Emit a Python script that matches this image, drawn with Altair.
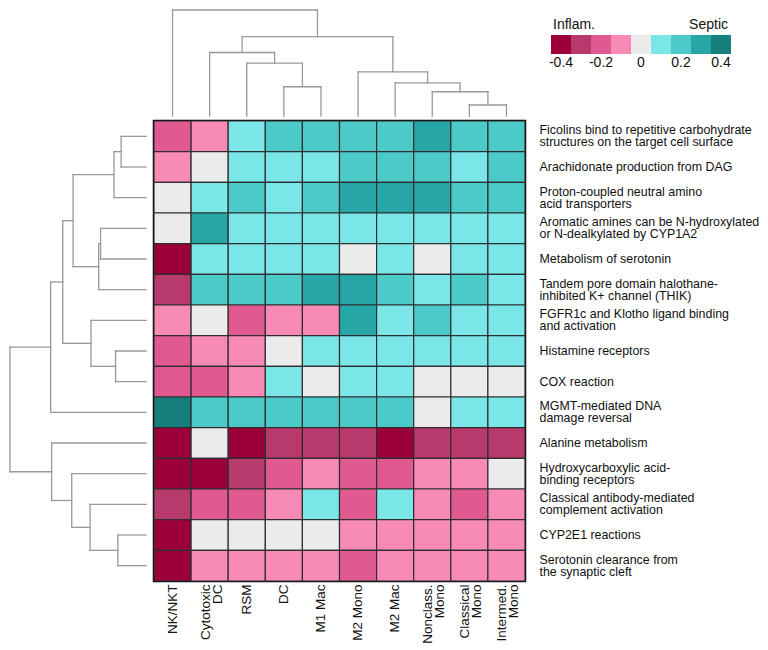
import altair as alt
import pandas as pd

FONT = "Liberation Sans"

# ---------------- data ----------------
columns = ["NK/NKT", "Cytotoxic|DC", "RSM", "DC", "M1 Mac", "M2 Mono",
           "M2 Mac", "Nonclass.|Mono", "Classical|Mono", "Intermed.|Mono"]

pathways = [
    "Ficolins bind to repetitive carbohydrate|structures on the target cell surface",
    "Arachidonate production from DAG",
    "Proton-coupled neutral amino|acid transporters",
    "Aromatic amines can be N-hydroxylated|or N-dealkylated by CYP1A2",
    "Metabolism of serotonin",
    "Tandem pore domain halothane-|inhibited K+ channel (THIK)",
    "FGFR1c and Klotho ligand binding|and activation",
    "Histamine receptors",
    "COX reaction",
    "MGMT-mediated DNA|damage reversal",
    "Alanine metabolism",
    "Hydroxycarboxylic acid-|binding receptors",
    "Classical antibody-mediated|complement activation",
    "CYP2E1 reactions",
    "Serotonin clearance from|the synaptic cleft",
]

values = [
    [-0.2, -0.1, 0.1, 0.2, 0.2, 0.2, 0.2, 0.3, 0.2, 0.2],
    [-0.1, 0.0, 0.1, 0.1, 0.1, 0.2, 0.2, 0.2, 0.1, 0.2],
    [0.0, 0.1, 0.2, 0.1, 0.2, 0.3, 0.3, 0.3, 0.2, 0.2],
    [0.0, 0.3, 0.1, 0.1, 0.1, 0.1, 0.1, 0.1, 0.1, 0.1],
    [-0.4, 0.1, 0.1, 0.1, 0.1, 0.0, 0.1, 0.0, 0.1, 0.1],
    [-0.3, 0.2, 0.2, 0.2, 0.3, 0.3, 0.2, 0.1, 0.2, 0.1],
    [-0.1, 0.0, -0.2, -0.1, -0.1, 0.3, 0.1, 0.2, 0.1, 0.1],
    [-0.2, -0.1, -0.1, 0.0, 0.1, 0.1, 0.1, 0.1, 0.1, 0.1],
    [-0.2, -0.2, -0.1, 0.1, 0.0, 0.1, 0.1, 0.0, 0.0, 0.0],
    [0.4, 0.2, 0.2, 0.2, 0.2, 0.2, 0.2, 0.0, 0.1, 0.1],
    [-0.4, 0.0, -0.4, -0.3, -0.3, -0.3, -0.4, -0.3, -0.3, -0.3],
    [-0.4, -0.4, -0.3, -0.2, -0.1, -0.2, -0.2, -0.1, -0.1, 0.0],
    [-0.3, -0.2, -0.2, -0.1, 0.1, -0.2, 0.1, -0.1, -0.2, -0.1],
    [-0.4, 0.0, 0.0, 0.0, 0.0, -0.1, -0.1, -0.1, -0.1, -0.1],
    [-0.4, -0.1, -0.1, -0.1, -0.1, -0.2, -0.1, -0.1, -0.1, -0.1],
]

# linkage: (child a, child b, merge distance); leaves are 0..n-1 in display order
col_linkage = [
    (8, 9, 0.104),
    (7, 10, 0.229),
    (6, 11, 0.312),
    (5, 12, 0.416),
    (3, 4, 0.276),
    (2, 14, 0.499),
    (1, 15, 0.599),
    (16, 13, 0.748),
    (0, 17, 1.0),
]

row_linkage = [
    (0, 1, 0.183),
    (15, 2, 0.235),
    (3, 4, 0.334),
    (17, 5, 0.348),
    (16, 18, 0.536),
    (7, 8, 0.224),
    (6, 20, 0.404),
    (19, 21, 0.612),
    (22, 9, 0.701),
    (13, 14, 0.207),
    (12, 24, 0.411),
    (11, 25, 0.546),
    (10, 26, 0.694),
    (23, 27, 1.0),
]

legend_values = [-0.4, -0.3, -0.2, -0.1, 0.0, 0.1, 0.2, 0.3, 0.4]
legend_colors = ["#9c003b", "#b8396b", "#e05a91", "#f78bb5", "#ebebeb",
                 "#7ae6e8", "#4cc9c9", "#27a6a8", "#167e7d"]
legend_ticks = [-0.4, -0.2, 0.0, 0.2, 0.4]
legend_tick_labels = ["-0.4", "-0.2", "0", "0.2", "0.4"]
legend_titles = ["Inflam.", "Septic"]

# ---------------- layout ----------------
N_COLS = len(columns)
N_ROWS = len(pathways)
CELL_W = 37.1
CELL_H = 30.67
HM_W = round(CELL_W * N_COLS)
HM_H = round(CELL_H * N_ROWS)
LEFT_W = 136
GAP = 8
TOP_H = 106
LEG_GAP = 26
LEG_W = 180
TOP_W = LEFT_W + GAP + HM_W + LEG_GAP + LEG_W
DCOL = "#999999"
TXT = "#111111"
MULTI = "indexof(datum.label, '|') >= 0"

# ---------------- build tables ----------------
def dendro_segments(linkage, n):
    pos = {i: i + 0.5 for i in range(n)}
    hgt = {i: 0.0 for i in range(n)}
    segs = []
    for k, (a, b, d) in enumerate(linkage):
        node = n + k
        segs.append(dict(p=pos[a], p2=pos[a], d=hgt[a], d2=d))
        segs.append(dict(p=pos[b], p2=pos[b], d=hgt[b], d2=d))
        segs.append(dict(p=pos[a], p2=pos[b], d=d, d2=d))
        pos[node] = (pos[a] + pos[b]) / 2
        hgt[node] = d
    return pd.DataFrame(segs)

top_df = dendro_segments(col_linkage, N_COLS)
left_df = dendro_segments(row_linkage, N_ROWS)

heat_df = pd.DataFrame(
    [dict(row=pathways[i], col=columns[j], val=values[i][j])
     for i in range(N_ROWS) for j in range(N_COLS)]
)

step = legend_values[1] - legend_values[0]
thresholds = [(a + b) / 2 for a, b in zip(legend_values[:-1], legend_values[1:])]
leg_df = pd.DataFrame({"v": legend_values, "c": legend_colors})
leg_df["lo"] = leg_df["v"] - step / 2
leg_df["hi"] = leg_df["v"] + step / 2
leg_lo = legend_values[0] - step / 2
leg_hi = legend_values[-1] + step / 2
tick_df = pd.DataFrame({"x": legend_ticks, "t": legend_tick_labels})

# ---------------- scales ----------------
col_domain_lo = -(LEFT_W + GAP) / CELL_W
col_domain_hi = (TOP_W - LEFT_W - GAP) / CELL_W
leg_unit = (leg_hi - leg_lo) / LEG_W
leg_x = alt.Scale(domain=[leg_lo - (TOP_W - LEG_W) * leg_unit, leg_hi], nice=False, zero=False)

# ---------------- charts ----------------
top = alt.Chart(top_df).mark_rule(color=DCOL, strokeWidth=1.3, strokeCap="square").encode(
    x=alt.X("p:Q", scale=alt.Scale(domain=[col_domain_lo, col_domain_hi], nice=False, zero=False), axis=None),
    x2="p2:Q",
    y=alt.Y("d:Q", scale=alt.Scale(domain=[0, 1], nice=False, zero=False), axis=None),
    y2="d2:Q",
)

swatches = alt.Chart(leg_df).mark_rect().encode(
    x=alt.X("lo:Q", scale=leg_x, axis=None),
    x2="hi:Q",
    y=alt.value(25),
    y2=alt.value(44),
    color=alt.Color("c:N", scale=None),
)
tick_text = alt.Chart(tick_df).mark_text(
    align="center", baseline="middle", fontSize=14, font=FONT, color=TXT
).encode(x=alt.X("x:Q", scale=leg_x, axis=None), y=alt.value(53), text="t:N")
title_left = alt.Chart(pd.DataFrame({"t": [legend_titles[0]], "x": [leg_lo]})).mark_text(
    align="left", baseline="middle", dx=2, fontSize=14, font=FONT, color=TXT
).encode(x=alt.X("x:Q", scale=leg_x, axis=None), y=alt.value(15), text="t:N")
title_right = alt.Chart(pd.DataFrame({"t": [legend_titles[1]], "x": [leg_hi]})).mark_text(
    align="right", baseline="middle", dx=-3, fontSize=14, font=FONT, color=TXT
).encode(x=alt.X("x:Q", scale=leg_x, axis=None), y=alt.value(15), text="t:N")
legend = alt.layer(swatches, tick_text, title_left, title_right)

top_row = alt.layer(top, legend).resolve_scale(x="independent").properties(width=TOP_W, height=TOP_H)

left = alt.Chart(left_df).mark_rule(color=DCOL, strokeWidth=1.3, strokeCap="square").encode(
    x=alt.X("d:Q", scale=alt.Scale(domain=[0, 1], reverse=True, nice=False, zero=False), axis=None),
    x2="d2:Q",
    y=alt.Y("p:Q", scale=alt.Scale(domain=[0, N_ROWS], reverse=True, nice=False, zero=False), axis=None),
    y2="p2:Q",
).properties(width=LEFT_W, height=HM_H)

heat = alt.Chart(heat_df).mark_rect(stroke="#2e2e2e", strokeWidth=1.2).encode(
    x=alt.X("col:N", sort=columns, scale=alt.Scale(paddingInner=0, paddingOuter=0),
            axis=alt.Axis(orient="bottom", labelAngle=270, labelExpr="split(datum.label, '|')",
                          labelLineHeight=12, labelFontSize=13.5, labelPadding=3, ticks=False,
                          labelOffset={"condition": {"test": MULTI, "value": -4}, "value": 0},
                          domain=False, title=None, labelColor=TXT, labelFont=FONT)),
    y=alt.Y("row:N", sort=pathways, scale=alt.Scale(paddingInner=0, paddingOuter=0),
            axis=alt.Axis(orient="right", labelExpr="split(datum.label, '|')",
                          labelLineHeight=12, labelFontSize=12.4, labelPadding=14, labelLimit=400,
                          labelOffset={"condition": {"test": MULTI, "value": -6}, "value": 0},
                          ticks=False, domain=False, title=None, labelColor=TXT, labelFont=FONT)),
    color=alt.Color("val:Q", scale=alt.Scale(type="threshold", domain=thresholds, range=legend_colors),
                    legend=None),
).properties(width=HM_W, height=HM_H, view=alt.ViewBackground(stroke="#000000", strokeWidth=2.5))

bottom_row = alt.hconcat(left, heat, spacing=GAP, bounds="flush")
chart = alt.vconcat(top_row, bottom_row, spacing=5, bounds="flush").properties(
    padding=0
).configure(font=FONT).configure_view(stroke="transparent")

chart.save("out.html", embed_options={"renderer": "svg", "actions": False})
